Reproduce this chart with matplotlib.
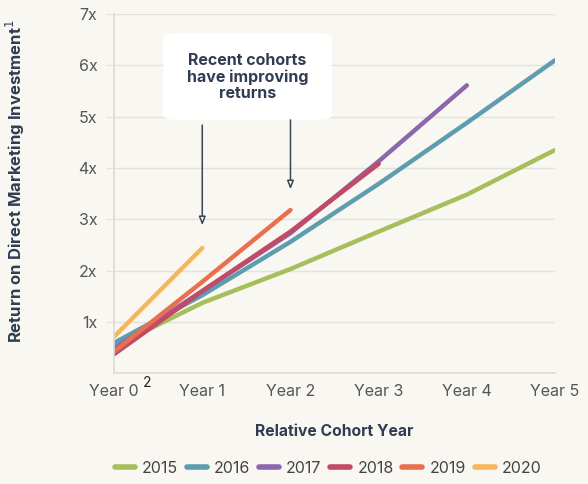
import matplotlib.pyplot as plt
from matplotlib.patches import FancyBboxPatch
from matplotlib.lines import Line2D

plt.rcParams["font.family"] = ["Inter", "DejaVu Sans"]

# Return multiple by relative cohort year (Year 0 .. Year 5)
years = [0, 1, 2, 3, 4, 5]
year_labels = ["Year 0", "Year 1", "Year 2", "Year 3", "Year 4", "Year 5"]
cohorts = ["2015", "2016", "2017", "2018", "2019", "2020"]
ret_2015 = [0.52, 1.37, 2.03, 2.76, 3.48, 4.35]
ret_2016 = [0.59, 1.52, 2.56, 3.69, 4.88, 6.10]
ret_2017 = [0.48, 1.60, 2.73, 4.13, 5.61]
ret_2018 = [0.37, 1.60, 2.76, 4.08]
ret_2019 = [0.42, 1.78, 3.18]
ret_2020 = [0.71, 2.44]
colors = ["#a6bf5a", "#5e9db0", "#8c67ad", "#c24a66", "#e8704f", "#f6b75c"]

y_ticks = [1, 2, 3, 4, 5, 6, 7]

bg = "#f9f7f2"
navy = "#2f3d52"
grid = "#e4e2dc"

fig, ax = plt.subplots(figsize=(5.88, 4.84), dpi=100)
fig.patch.set_facecolor(bg)
ax.set_facecolor(bg)
fig.subplots_adjust(left=0.194, right=0.944, bottom=0.229, top=0.971)

series = [ret_2015, ret_2016, ret_2017, ret_2018, ret_2019, ret_2020]
for vals, label, c in zip(series, cohorts, colors):
    ax.plot(years[:len(vals)], vals, color=c, lw=3.2, label=label,
            solid_capstyle="round", solid_joinstyle="round")

ax.set_xlim(0, 5)
ax.set_ylim(0, 7)
ax.set_yticks(y_ticks, labels=[f"{v}x" for v in y_ticks])
ax.set_xticks(years, labels=year_labels)
ax.yaxis.grid(True, color=grid, lw=1)
ax.set_axisbelow(True)
for side in ["top", "right"]:
    ax.spines[side].set_visible(False)
for side in ["left", "bottom"]:
    ax.spines[side].set_color("#dddbd5")
    ax.spines[side].set_linewidth(1.2)
ax.tick_params(axis="y", colors=grid, labelcolor="#555555", labelsize=11.5, length=6, pad=6)
ax.tick_params(axis="x", length=0, labelcolor="#555555", labelsize=11.5, pad=8)

ax.text(0.37, -0.06, "2", transform=ax.transData, fontsize=10, color="#222222",
        ha="center", va="top")

ax.set_xlabel("Relative Cohort Year", fontsize=11.3, fontweight="bold", color=navy, labelpad=18)
ax.set_ylabel("Return on Direct Marketing Investment$^{1}$", fontsize=12, fontweight="bold",
              color=navy)
ax.yaxis.set_label_coords(-0.198, 0.535)

# annotation box
box = FancyBboxPatch((0.556, 4.93), 1.914, 1.70, boxstyle="round,pad=0,rounding_size=0.2",
                     transform=ax.transData, facecolor="white", edgecolor="none",
                     mutation_aspect=51.3 / 88.2, zorder=3)
ax.add_patch(box)
ax.text(1.51, 5.77, "Recent cohorts\nhave improving\nreturns", ha="center", va="center",
        fontsize=11.5, fontweight="bold", color=navy, linespacing=1.1, zorder=4)
for x0, y0, y1 in [(1, 4.89, 2.83), (2, 4.99, 3.53)]:
    ax.annotate("", xy=(x0, y1), xytext=(x0, y0),
                arrowprops=dict(arrowstyle="-|>,head_length=0.5,head_width=0.2",
                                color="#3a4556", lw=1.1, fc="white"), zorder=4)

handles = [Line2D([0], [0], color=c, lw=4, solid_capstyle="round") for c in colors]
fig.legend(handles, cohorts, loc="center", bbox_to_anchor=(0.558, 0.033), ncol=6,
           frameon=False, fontsize=11.5, handlelength=1.25, handletextpad=0.45,
           columnspacing=0.55, labelcolor="#444444")

fig.savefig("out.png", dpi=100, facecolor=bg)
